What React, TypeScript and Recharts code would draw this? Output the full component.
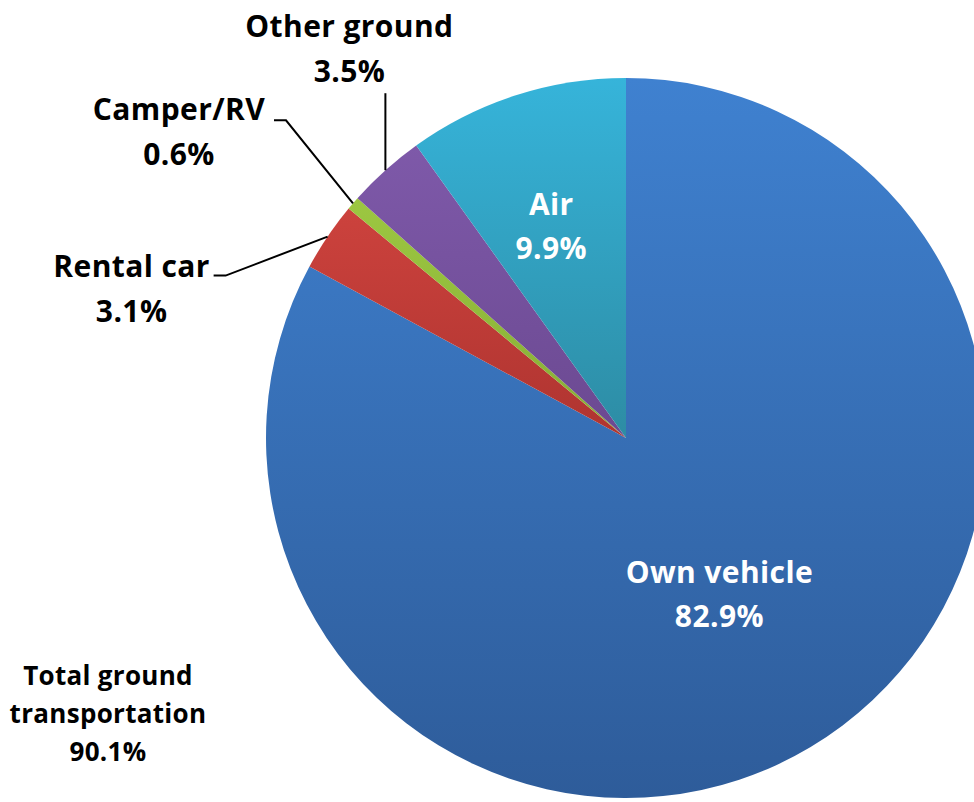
import React from "react";
import { PieChart, Pie, Cell } from "recharts";

const categories = ["Own vehicle", "Rental car", "Camper/RV", "Other ground", "Air"];
const shares = [82.9, 3.1, 0.6, 3.5, 9.9];
const groundTotalLabel = ["Total ground", "transportation", "90.1%"];

const data = categories.map((name, i) => ({ name, value: shares[i] }));

const gradients: Record<string, [string, string]> = {
  "Own vehicle": ["#3F81D0", "#2E5C9A"],
  "Rental car": ["#CC423D", "#AF3430"],
  "Camper/RV": ["#9CC741", "#87AD36"],
  "Other ground": ["#7E59A9", "#6B4991"],
  Air: ["#36B4DA", "#2D8CA4"],
};

const FONT = "'Open Sans', Lato, sans-serif";
const RADIAN = Math.PI / 180;

// inside labels: fraction of radius along the slice middle
const insideLabels: Record<string, { r: number; dx: number }> = {
  "Own vehicle": { r: 0.507, dx: 0 },
  Air: { r: 0.615, dx: -7 },
};

// outside labels: offsets from the point where the slice middle meets the rim
const outsideLabels: Record<
  string,
  { line: [number, number][]; text: [number, number] }
> = {
  "Other ground": { line: [[0, -77]], text: [-36, -133] },
  "Camper/RV": { line: [[-67, -83], [-79, -83]], text: [-174, -83] },
  "Rental car": { line: [[-102, 39], [-114, 39]], text: [-196, 40] },
};

const renderLabel = (props: any) => {
  const { cx, cy, midAngle, outerRadius, name, value } = props;
  const cos = Math.cos(-midAngle * RADIAN);
  const sin = Math.sin(-midAngle * RADIAN);
  const textStyle = {
    fontFamily: FONT,
    fontWeight: 700,
    fontSize: 30,
    letterSpacing: 0.4,
  };

  if (insideLabels[name]) {
    const { r, dx } = insideLabels[name];
    const x = cx + outerRadius * r * cos + dx;
    const y = cy + outerRadius * r * sin;
    return (
      <g key={name}>
        <text x={x} y={y - 12} textAnchor="middle" fill="#fff" style={textStyle}>
          {name}
        </text>
        <text x={x} y={y + 32} textAnchor="middle" fill="#fff" style={textStyle}>
          {value.toFixed(1)}%
        </text>
      </g>
    );
  }

  const cfg = outsideLabels[name];
  if (!cfg) return null;
  const ex = cx + outerRadius * cos;
  const ey = cy + outerRadius * sin;
  const pts = [[ex, ey], ...cfg.line.map(([dx, dy]) => [ex + dx, ey + dy])];
  const tx = ex + cfg.text[0];
  const ty = ey + cfg.text[1];
  return (
    <g key={name}>
      <polyline
        points={pts.map((p) => p.join(",")).join(" ")}
        fill="none"
        stroke="#000"
        strokeWidth={2}
      />
      <text x={tx} y={ty} textAnchor="middle" fill="#000" style={textStyle}>
        {name}
      </text>
      <text x={tx} y={ty + 45} textAnchor="middle" fill="#000" style={textStyle}>
        {value.toFixed(1)}%
      </text>
    </g>
  );
};

const App = () => {
  return (
    <div
      style={{
        position: "absolute",
        left: 0,
        top: 0,
        width: 974,
        height: 802,
        overflow: "hidden",
        background: "#fff",
      }}
    >
      <PieChart width={974} height={802} margin={{ top: 0, right: 0, bottom: 0, left: 0 }}>
        <defs>
          {categories.map((name, i) => (
            <linearGradient key={name} id={`grad-${i}`} x1="0" y1="0" x2="0" y2="1">
              <stop offset="0%" stopColor={gradients[name][0]} />
              <stop offset="100%" stopColor={gradients[name][1]} />
            </linearGradient>
          ))}
        </defs>
        <Pie
          data={data}
          dataKey="value"
          nameKey="name"
          cx={626}
          cy={438}
          outerRadius={360}
          startAngle={90}
          endAngle={-270}
          stroke="none"
          label={renderLabel}
          labelLine={false}
          isAnimationActive={false}
        >
          {data.map((d, i) => (
            <Cell key={d.name} fill={`url(#grad-${i})`} />
          ))}
        </Pie>
      </PieChart>
      <div
        style={{
          position: "absolute",
          left: 7,
          top: 656,
          width: 202,
          textAlign: "center",
          fontFamily: FONT,
          fontWeight: 700,
          fontSize: 26,
          letterSpacing: 0.3,
          lineHeight: "38px",
          color: "#000",
        }}
      >
        {groundTotalLabel.map((line) => (
          <div key={line}>{line}</div>
        ))}
      </div>
    </div>
  );
};

export default App;
